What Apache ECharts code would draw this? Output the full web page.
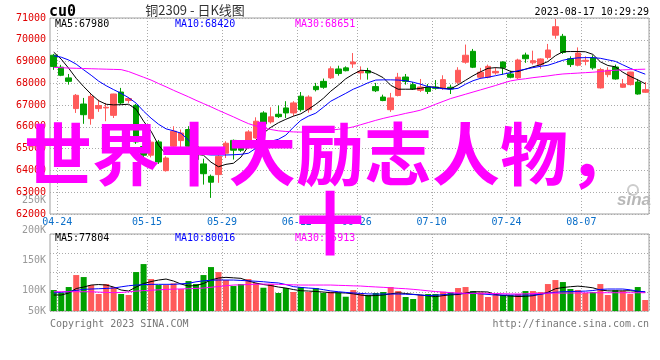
<!DOCTYPE html>
<html><head><meta charset="utf-8">
<script src="https://cdn.jsdelivr.net/npm/echarts@6/dist/echarts.min.js"></script>
<style>html,body{margin:0;padding:0;background:#fff}#c{width:660px;height:360px}</style>
</head><body><div id="c"></div>
<script>
const dates = ['04-21','04-24','04-25','04-26','04-27','04-28','05-04','05-05','05-08','05-09','05-10','05-11','05-12','05-15','05-16','05-17','05-18','05-19','05-22','05-23','05-24','05-25','05-26','05-29','05-30','05-31','06-01','06-02','06-05','06-06','06-07','06-08','06-09','06-12','06-13','06-14','06-15','06-16','06-19','06-20','06-21','06-26','06-27','06-28','06-29','06-30','07-03','07-04','07-05','07-06','07-07','07-10','07-11','07-12','07-13','07-14','07-17','07-18','07-19','07-20','07-21','07-24','07-25','07-26','07-27','07-28','07-31','08-01','08-02','08-03','08-04','08-07','08-08','08-09','08-10','08-11','08-14','08-15','08-16','08-17'];
const xLabelDates = ['04-24','05-15','05-29','06-12','06-26','07-10','07-24','08-07'];

const open = [69290,68740,68250,66840,67050,66380,66840,66870,66530,67600,67210,66990,65100,64700,65310,63990,65110,65370,65880,65100,64300,63730,63810,64790,65380,65080,65160,65490,66640,66230,66580,66870,66640,67410,66790,67860,68090,68250,68660,68710,68890,68480,68580,67850,67370,66790,67440,68290,67940,67680,67830,67830,67790,67820,68050,68970,69470,68280,68280,68480,68980,68430,68250,69300,68940,68860,69190,70210,70160,69130,68830,69010,69160,67790,68400,68750,67820,67940,68060,67590];
const close = [68770,68370,68090,67450,66560,67400,66980,66900,67510,67100,67300,65310,64700,65300,64390,64570,65800,65720,65110,64500,63850,63460,64650,65250,64930,64930,65770,66260,66140,66460,66470,66640,67100,66790,67370,67710,67820,68670,68450,68580,68980,68550,68480,67660,67210,67330,68280,68090,67740,67830,67630,67770,68170,67740,68600,69290,68740,68510,68780,68550,68710,68280,69070,69130,69040,69120,69530,70600,69420,68860,69390,69060,68710,68630,68600,68200,67970,68520,67510,67710];
const low = [68620,68330,67940,66640,66140,66100,66690,66260,66410,67050,67100,65220,64550,64600,64300,63950,65050,65030,64950,64400,63350,62740,63430,64570,64500,64850,65000,65450,66000,66150,66410,66410,66500,66700,66650,67630,67750,68200,68350,68550,68710,68170,68170,67600,67180,66690,67400,67940,67700,67600,67510,67710,67700,67510,67970,68900,68700,68200,68230,68400,68400,68230,68200,68940,68860,68670,69100,70050,69350,68750,68780,68830,68630,67760,68280,68170,67790,67900,67480,67560];
const high = [69350,68850,68430,67510,67330,67560,67250,67100,67520,67790,67370,67050,65250,65400,65400,64650,66030,65880,66030,65200,64540,63810,64700,65340,65420,65200,65850,66440,66720,66900,66980,67180,67180,67600,67450,68020,68220,68780,68810,68780,69390,68780,68710,68020,67480,67560,68480,68430,68060,68200,67970,68150,68370,67940,68740,69780,69580,68710,68860,68740,69010,68580,69130,69410,69500,69150,69810,70960,70270,69240,69650,69240,69290,68710,68740,68860,68200,68530,68200,68060];

const ma5 = [69430,69110,68690,68230,67850,67500,67200,67040,67010,67020,67040,66810,66260,65800,65160,64740,64840,64840,64790,64740,64700,64380,64170,64280,64330,64610,65110,65390,65710,65980,66190,66350,66490,66600,66810,67040,67310,67640,67910,68210,68420,68600,68580,68440,68260,67910,67730,67730,67730,67770,67840,67820,67770,67740,67930,68140,68350,68530,68690,68720,68700,68550,68540,68650,68760,68850,69000,69270,69450,69460,69460,69450,69330,68990,68820,68760,68510,68320,68160,67980];
const ma10 = [69270,69200,69070,68880,68620,68370,68100,67890,67710,67540,67340,67090,66720,66400,66120,65910,65820,65710,65390,65020,64740,64710,64710,64710,64720,64740,64790,65020,65200,65340,65430,65620,65980,66300,66490,66630,66900,67180,67360,67540,67730,67870,68030,68150,68160,68160,68150,68120,68050,67960,67850,67800,67750,67730,67770,67960,68120,68230,68280,68350,68420,68490,68580,68650,68720,68780,68830,68940,69060,69130,69170,69180,69180,69150,69080,69010,68850,68690,68550,68420];
const ma30 = [68730,68720,68700,68690,68680,68670,68660,68650,68640,68630,68540,68410,68280,68150,67990,67840,67680,67530,67380,67220,67070,66920,66760,66610,66460,66300,66150,66040,65950,65880,65820,65790,65770,65760,65770,65790,65820,65850,65890,65930,66000,66100,66200,66300,66390,66470,66540,66620,66690,66770,66900,67040,67170,67300,67400,67500,67600,67700,67800,67900,68010,68110,68170,68210,68260,68300,68340,68390,68430,68450,68470,68490,68510,68540,68580,68600,68620,68630,68640,68650];

const volume = [87150,75950,99600,149400,141100,107900,70550,112050,99600,70550,66400,161850,195050,132800,107900,107900,114950,91300,124500,112050,149400,182600,161850,128650,103750,112050,132800,116200,96700,112050,74700,95450,78850,99600,78850,95450,74700,80100,75950,59350,87150,73450,66400,74700,78850,99600,83000,58100,49800,66400,70550,70550,80100,77600,95450,99600,83000,77600,58100,69300,66400,66400,70550,83000,83000,78850,112050,128650,120350,91300,87150,74700,78850,112050,66400,87150,83000,70550,99600,45650];
const volMa5 = [66400,66400,74700,93400,99600,107900,110000,107900,99600,87150,83000,99600,114100,122400,128650,132800,124500,112050,103750,105800,114100,128650,136950,139850,137800,135700,124500,116200,110000,105800,99600,95450,89200,84250,83000,80900,78850,75950,75950,74700,71400,66400,63100,64300,66400,71400,75500,72600,69300,66400,63100,59750,63900,67250,68500,74700,79700,80100,78850,68500,64300,62250,60200,61000,63500,70550,77600,92550,97550,100850,103350,100450,96300,87150,83800,83000,83800,84250,81750,77800];
const volMa10 = [74700,77600,80900,85500,90050,91300,92550,93800,95450,100450,105000,107900,109550,110800,110800,110800,110800,112900,115350,121200,125350,127800,128650,128650,128650,127000,125350,123650,121600,118700,116600,110000,101250,97950,95450,93400,88800,83400,80100,77200,75100,73050,70950,70550,70550,70550,70550,69700,68500,66400,63900,65550,68050,70550,71400,72600,73450,71400,68900,66400,66400,66400,66400,66400,66400,68900,74700,77600,80100,80900,81750,82600,85050,89650,91300,91300,91300,88000,82150,80020];
const volMa30 = [80100,80100,80100,80100,80100,79900,78450,77200,76350,76800,79700,82600,84650,86300,87950,89650,90900,91700,92550,93800,95450,98750,101650,105000,107900,108750,110000,111200,112050,111650,110800,109550,108750,107900,107900,107900,107900,107900,106650,105800,104600,103750,101650,100000,98350,96300,94200,92550,90050,87150,83800,80900,78450,76350,74700,73450,73450,73450,73450,72600,71800,70950,70550,71400,72600,73450,74300,74300,74300,74700,75100,75500,75950,75950,75950,75950,75950,75950,75950,75910];

const priceMin = 62000, priceMax = 71000, priceStep = 1000;
const volLabelMin = 50000, volLabelMax = 250000, volLabelStep = 50000;

const UP = '#ff5a5a', DOWN = '#00a000';
const MONO = '"DejaVu Sans Mono", monospace';
const dotted = {color: '#aaaaaa', type: [1, 2], width: 1};
const isLabelDate = (i, v) => xLabelDates.indexOf(v) >= 0;

const chart = echarts.init(document.getElementById('c'), null, {renderer: 'canvas'});
const lineS = (name, data, color, xi, yi) => ({
  name, type: 'line', data, xAxisIndex: xi, yAxisIndex: yi, symbol: 'none', silent: true,
  lineStyle: {color, width: 1}, itemStyle: {color}, z: 3
});
const txt = (text, x, y, fill, font, align, valign, extra) => Object.assign({
  type: 'text', x, y, silent: true, z: 50,
  style: {text, fill, font, textAlign: align || 'left', textVerticalAlign: valign || 'middle'}
}, extra || {});

const option = {
  animation: false,
  backgroundColor: '#ffffff',
  grid: [
    {left: 50, top: 18, width: 599, height: 196, show: true, borderColor: '#a0a0a0', borderWidth: 1, backgroundColor: 'transparent'},
    {left: 50, top: 234, width: 599, height: 77, show: true, borderColor: '#a0a0a0', borderWidth: 1, backgroundColor: 'transparent'},
    {left: 50, top: 200, width: 599, height: 120, show: false}
  ],
  xAxis: [
    {type: 'category', gridIndex: 0, data: dates, boundaryGap: true,
     axisLine: {show: false}, axisTick: {show: false},
     axisLabel: {interval: isLabelDate, color: '#0b6fc9', fontFamily: MONO, fontSize: 10, margin: 3, padding: [0, 8, 0, 0]},
     splitLine: {show: true, interval: isLabelDate, lineStyle: dotted}},
    {type: 'category', gridIndex: 1, data: dates, boundaryGap: true,
     axisLine: {show: false}, axisTick: {show: false}, axisLabel: {show: false},
     splitLine: {show: true, interval: isLabelDate, lineStyle: dotted}},
    {type: 'value', gridIndex: 2, show: false, min: 0, max: 1}
  ],
  yAxis: [
    {type: 'value', gridIndex: 0, min: priceMin, max: priceMax, interval: priceStep,
     axisLine: {show: false}, axisTick: {show: false},
     axisLabel: {color: '#e00000', fontFamily: MONO, fontSize: 10, margin: 4, formatter: v => String(v)},
     splitLine: {show: true, lineStyle: dotted}},
    {type: 'value', gridIndex: 1, min: 0, max: 320000, interval: 80000,
     axisLine: {show: false}, axisTick: {show: false}, axisLabel: {show: false},
     splitLine: {show: true, lineStyle: dotted}},
    {type: 'value', gridIndex: 2, min: volLabelMin, max: volLabelMax, interval: volLabelStep,
     axisLine: {show: false}, axisTick: {show: false}, splitLine: {show: false},
     axisLabel: {color: '#999999', fontFamily: MONO, fontSize: 10, margin: 4,
       formatter: v => v === volLabelMin ? '{s|' + (v / 1000) + 'K}' : (v / 1000) + 'K',
       rich: {s: {color: '#999999', fontFamily: MONO, fontSize: 10, padding: [0, 0, 18, 0]}}}}
  ],
  series: [
    {type: 'candlestick', name: 'K', xAxisIndex: 0, yAxisIndex: 0, barWidth: 6, silent: true,
     data: dates.map((d, i) => [open[i], close[i], low[i], high[i]]),
     itemStyle: {color: UP, color0: DOWN, borderColor: UP, borderColor0: DOWN, borderWidth: 1}, z: 2},
    lineS('MA5', ma5, '#000000', 0, 0),
    lineS('MA10', ma10, '#0000ff', 0, 0),
    lineS('MA30', ma30, '#ff00ff', 0, 0),
    {type: 'bar', name: 'VOL', xAxisIndex: 1, yAxisIndex: 1, barWidth: 6, silent: true,
     data: volume.map((v, i) => ({value: v, itemStyle: {color: close[i] >= open[i] ? UP : DOWN}})), z: 2},
    lineS('VMA5', volMa5, '#000000', 1, 1),
    lineS('VMA10', volMa10, '#0000ff', 1, 1),
    lineS('VMA30', volMa30, '#ff00ff', 1, 1)
  ],
  graphic: [
    txt('cu0', 49, 12, '#000', 'bold 15px ' + MONO),
    txt('铜2309 - 日K线图', 195, 10, '#333', '13px "Noto Sans CJK SC"', 'center'),
    txt('2023-08-17 10:29:29', 649, 12, '#000', '10px ' + MONO, 'right'),
    txt('MA5:' + ma5[ma5.length - 1], 55, 24, '#000', '10px ' + MONO),
    txt('MA10:' + ma10[ma10.length - 1], 175, 24, '#0000ff', '10px ' + MONO),
    txt('MA30:68651', 295, 24, '#ff00ff', '10px ' + MONO),
    txt('MA5:77804', 55, 238, '#000', '10px ' + MONO),
    txt('MA10:80016', 175, 238, '#0000ff', '10px ' + MONO),
    txt('MA30:75913', 295, 238, '#ff00ff', '10px ' + MONO),
    txt('Copyright 2023 SINA.COM', 50, 324, '#777', '10px ' + MONO),
    txt('http://finance.sina.com.cn', 649, 324, '#777', '10px ' + MONO, 'right'),
    {type: 'circle', shape: {cx: 633, cy: 190, r: 5}, silent: true, z: 40,
     style: {fill: 'none', stroke: '#cccccc', lineWidth: 2}},
    txt('sina', 634, 200, '#b8b8b8', 'italic bold 17px "Liberation Sans"', 'center', 'middle', {z: 40}),
    {type: 'text', x: 330, y: 189, z: 100, silent: true,
     style: {text: '世界十大励志人物，\n十', fill: '#ff00ff', font: 'bold 68px "Noto Sans CJK SC"',
       lineHeight: 69, textAlign: 'center', textVerticalAlign: 'middle',
       textShadowColor: '#444444', textShadowOffsetX: 2, textShadowOffsetY: 2, textShadowBlur: 0}}
  ]
};
chart.setOption(option);
</script></body></html>
